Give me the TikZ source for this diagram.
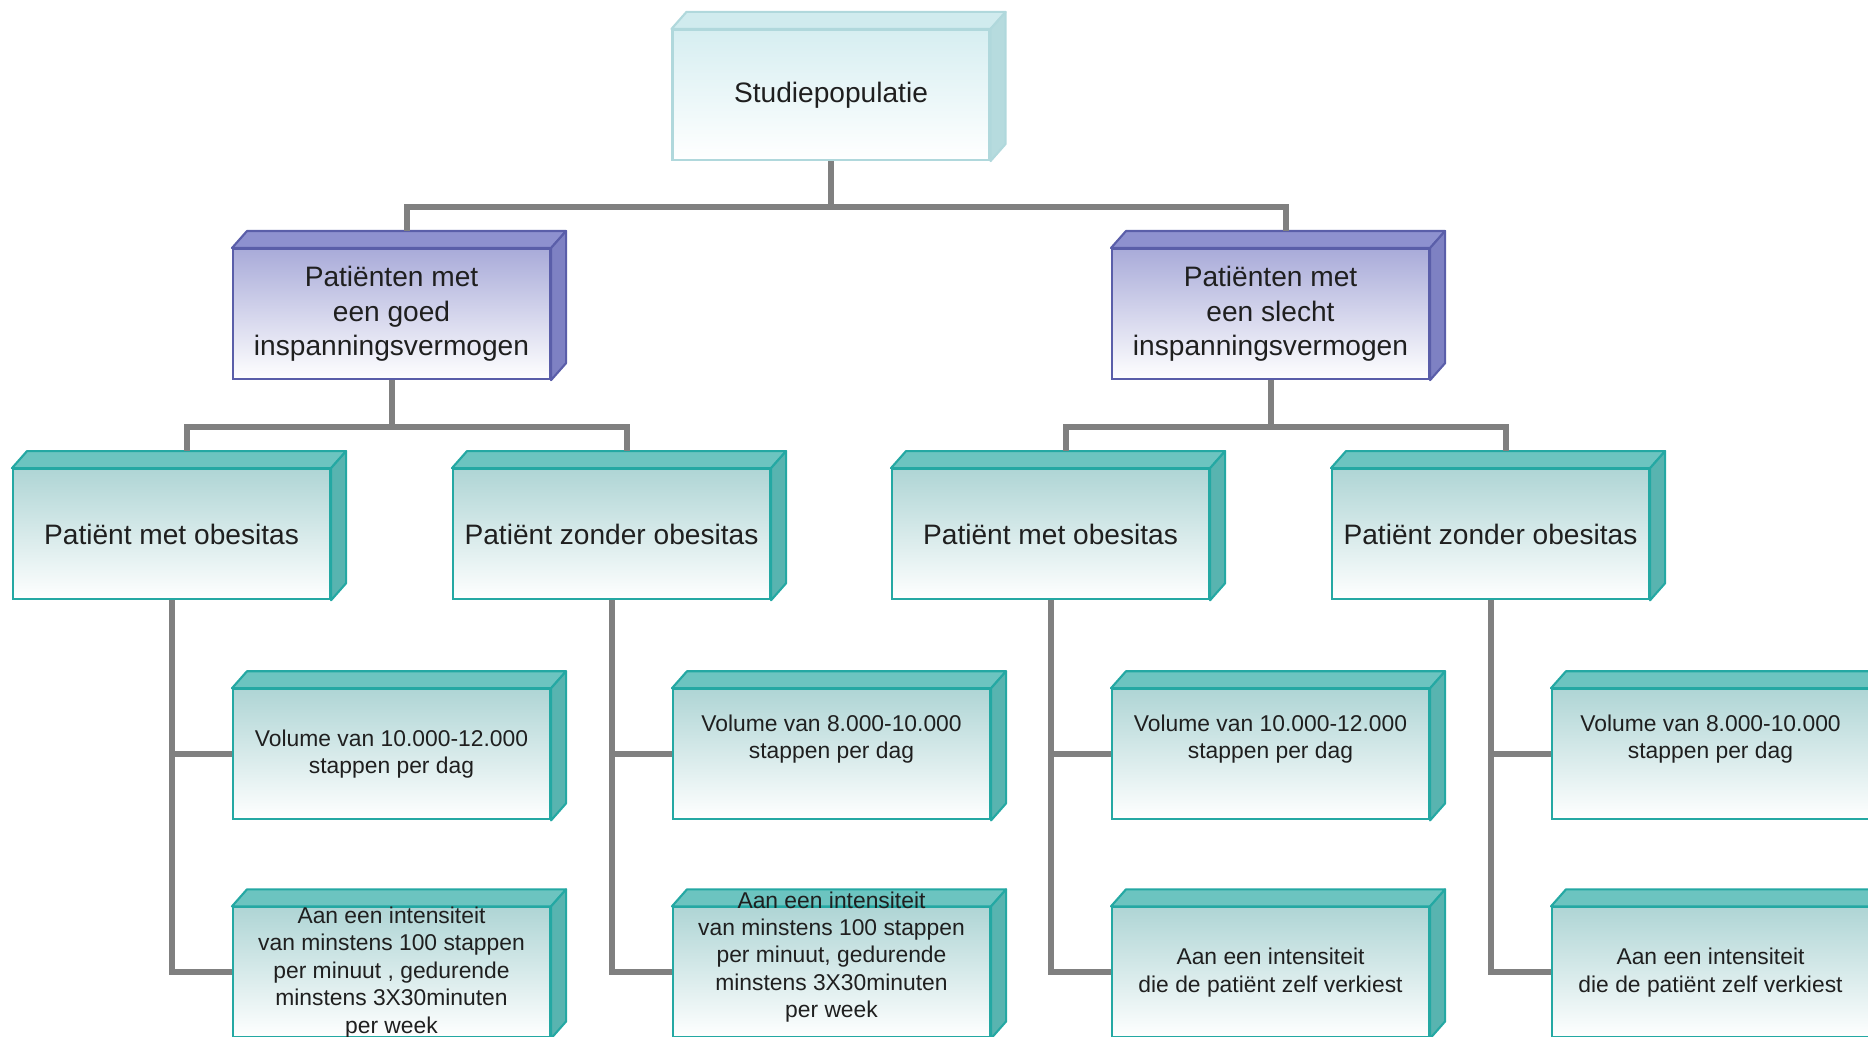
\documentclass[tikz,border=0pt]{standalone}
\usepackage{fontspec}
\setmainfont{Liberation Sans}
\usepackage{tikz}
\usetikzlibrary{positioning, calc, backgrounds}

\definecolor{popfront}{HTML}{D6EEF1}
\definecolor{poptop}{HTML}{D0EBEE}
\definecolor{popside}{HTML}{B6DBDE}
\definecolor{popline}{HTML}{B0D8DC}
\definecolor{inspfront}{HTML}{A9ABD9}
\definecolor{insptop}{HTML}{8E91CF}
\definecolor{inspside}{HTML}{7E81C3}
\definecolor{inspline}{HTML}{5A5EA9}
\definecolor{grpfront}{HTML}{AFD5D5}
\definecolor{grptop}{HTML}{6CC4C0}
\definecolor{grpside}{HTML}{58B4B0}
\definecolor{grpline}{HTML}{24A8A3}
\definecolor{linkgray}{HTML}{808080}

\begin{document}
\begin{tikzpicture}[
  box/.style={draw=#1line, line width=0.6pt, top color=#1front, bottom color=white,
              minimum width=3.17cm, minimum height=1.3cm, inner xsep=2pt, inner ysep=-1cm,
              align=center, text=black!88},
  big/.style={font=\fontsize{8}{9.8}\selectfont},
  small/.style={font=\fontsize{6.5}{7.8}\selectfont},
  link/.style={draw=linkgray, line width=0.06cm}
]
\useasboundingbox (0,0) rectangle (18.68,-10.37);
\clip (0,0) rectangle (18.68,-10.37);

% top
\node[box=pop, big] (top) at (8.31,-0.95) {Studiepopulatie};

% inspanningsvermogen
\node[box=insp, big, below=0.87cm of top, xshift=-4.395cm] (p1) {Patiënten met\\ een goed\\ inspanningsvermogen};
\node[box=insp, big, below=0.87cm of top, xshift=4.395cm] (p2) {Patiënten met\\ een slecht\\ inspanningsvermogen};

% groepen
\node[box=grp, big, below=0.88cm of p1, xshift=-2.2cm] (t1) {Patiënt met obesitas};
\node[box=grp, big, below=0.88cm of p1, xshift=2.2cm] (t2) {Patiënt zonder obesitas};
\node[box=grp, big, below=0.88cm of p2, xshift=-2.2cm] (t3) {Patiënt met obesitas};
\node[box=grp, big, below=0.88cm of p2, xshift=2.2cm] (t4) {Patiënt zonder obesitas};

% volume
\node[box=grp, small, below=0.88cm of t1, xshift=2.2cm] (v1) {Volume van 10.000-12.000\\ stappen per dag};
\node[box=grp, small, below=0.88cm of t2, xshift=2.2cm] (v2) {Volume van 8.000-10.000\\ stappen per dag\\ \strut};
\node[box=grp, small, below=0.88cm of t3, xshift=2.2cm] (v3) {Volume van 10.000-12.000\\ stappen per dag\\ \strut};
\node[box=grp, small, below=0.88cm of t4, xshift=2.2cm] (v4) {Volume van 8.000-10.000\\ stappen per dag\\ \strut};

% intensiteit
\node[box=grp, small, below=0.86cm of v1] (i1) {Aan een intensiteit\\ van minstens 100 stappen\\ per minuut , gedurende\\ minstens 3X30minuten\\ per week};
\node[box=grp, small, below=0.86cm of v2] (i2) {Aan een intensiteit\\ van minstens 100 stappen\\ per minuut, gedurende\\ minstens 3X30minuten\\ per week\\ \strut};
\node[box=grp, small, below=0.86cm of v3] (i3) {Aan een intensiteit\\ die de patiënt zelf verkiest};
\node[box=grp, small, below=0.86cm of v4] (i4) {Aan een intensiteit\\ die de patiënt zelf verkiest};

% 3d faces, behind the texts
\begin{scope}[on background layer]
\foreach \n/\k in {top/pop, p1/insp, p2/insp, t1/grp, t2/grp, t3/grp, t4/grp,
                   v1/grp, v2/grp, v3/grp, v4/grp, i1/grp, i2/grp, i3/grp, i4/grp} {
  \filldraw[fill=\k top, draw=\k line, line width=0.6pt, line join=round]
    (\n.north west) -- ++(0.15,0.17) -- ($(\n.north east)+(0.15,0.17)$) -- (\n.north east) -- cycle;
  \filldraw[fill=\k side, draw=\k line, line width=0.6pt, line join=round]
    (\n.north east) -- ++(0.15,0.17) -- ($(\n.south east)+(0.15,0.17)$) -- (\n.south east) -- cycle;
  \coordinate (\n-back) at ($(\n.north)+(0.15,0.17)$);
}
\end{scope}

% connectors
\draw[link] (top.south) -- ++(0,-0.46) -| (p1-back);
\draw[link] (top.south) -- ++(0,-0.46) -| (p2-back);
\draw[link] (p1.south) -- ++(0,-0.47) -| (t1-back);
\draw[link] (p1.south) -- ++(0,-0.47) -| (t2-back);
\draw[link] (p2.south) -- ++(0,-0.47) -| (t3-back);
\draw[link] (p2.south) -- ++(0,-0.47) -| (t4-back);
\foreach \g/\a/\b in {t1/v1/i1, t2/v2/i2, t3/v3/i3, t4/v4/i4} {
  \draw[link] (\g.south) |- (\a.west);
  \draw[link] (\g.south) |- (\b.west);
}
\end{tikzpicture}
\end{document}
